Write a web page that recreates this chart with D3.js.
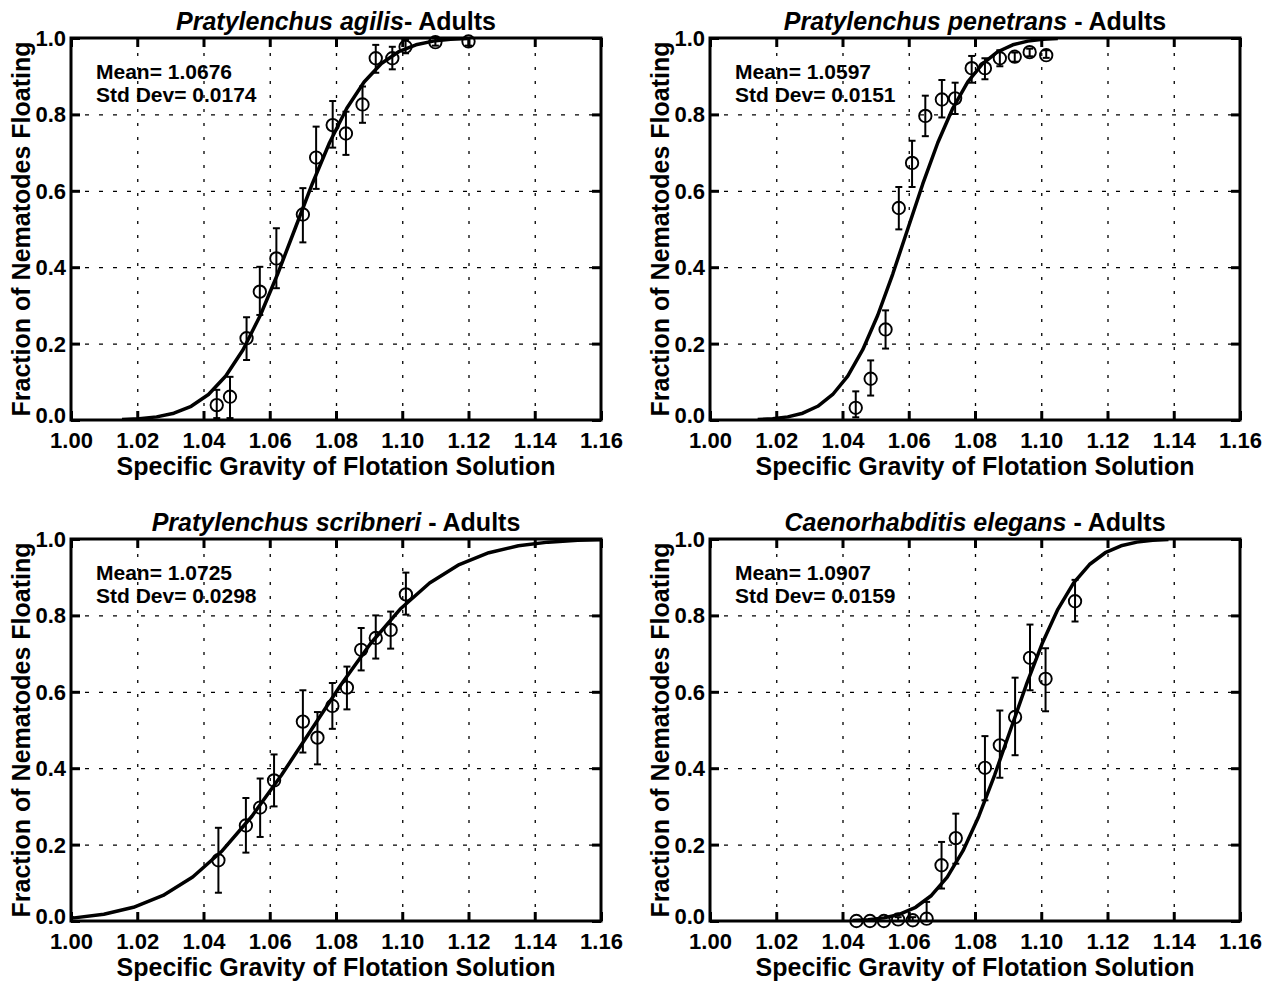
<!DOCTYPE html>
<html>
<head>
<meta charset="utf-8">
<script src="https://cdn.jsdelivr.net/npm/d3@7"></script>
<style>
  html, body { margin: 0; padding: 0; background: #fff; }
  svg { display: block; }
  text { font-family: "Liberation Sans", Arial, Helvetica, sans-serif; fill: #000; }
</style>
</head>
<body>
<svg id="chart" width="1275" height="981"></svg>
<script>
// ---------------- data ----------------
const xTicks = [1.00, 1.02, 1.04, 1.06, 1.08, 1.10, 1.12, 1.14, 1.16];
const yTicks = [0.0, 0.2, 0.4, 0.6, 0.8, 1.0];

const speciesNames = ["Pratylenchus agilis", "Pratylenchus penetrans", "Pratylenchus scribneri", "Caenorhabditis elegans"];
const titleSuffixes = ["- Adults", " - Adults", " - Adults", " - Adults"];
const fitMeans = [1.0676, 1.0597, 1.0725, 1.0907];
const fitStdDevs = [0.0174, 0.0151, 0.0298, 0.0159];
const meanLabels = ["1.0676", "1.0597", "1.0725", "1.0907"];
const sdLabels = ["0.0174", "0.0151", "0.0298", "0.0159"];

// P. agilis
const agilisSG   = [1.044, 1.048, 1.053, 1.057, 1.062, 1.070, 1.074, 1.079, 1.083, 1.088, 1.092, 1.097, 1.101, 1.110, 1.120];
const agilisFrac = [0.039, 0.061, 0.214, 0.336, 0.423, 0.538, 0.687, 0.772, 0.750, 0.826, 0.947, 0.947, 0.977, 0.989, 0.991];
const agilisHi   = [0.079, 0.113, 0.269, 0.401, 0.502, 0.607, 0.768, 0.835, 0.807, 0.873, 0.982, 0.977, 0.995, 1.000, 1.000];
const agilisLo   = [0.005, 0.005, 0.157, 0.275, 0.345, 0.465, 0.605, 0.713, 0.694, 0.778, 0.909, 0.918, 0.960, 0.980, 0.980];

// P. penetrans
const penetransSG   = [1.044, 1.0485, 1.053, 1.057, 1.061, 1.065, 1.070, 1.074, 1.079, 1.083, 1.0875, 1.092, 1.0965, 1.1015];
const penetransFrac = [0.032, 0.108, 0.237, 0.555, 0.673, 0.796, 0.839, 0.842, 0.921, 0.921, 0.947, 0.951, 0.963, 0.955];
const penetransHi   = [0.075, 0.156, 0.287, 0.610, 0.731, 0.849, 0.890, 0.883, 0.953, 0.947, 0.968, 0.962, 0.972, 0.968];
const penetransLo   = [0.007, 0.064, 0.187, 0.499, 0.610, 0.743, 0.792, 0.801, 0.883, 0.892, 0.926, 0.938, 0.952, 0.948];

// P. scribneri
const scribneriSG   = [1.0445, 1.0528, 1.0571, 1.0613, 1.0700, 1.0744, 1.0789, 1.0833, 1.0876, 1.0920, 1.0965, 1.1011];
const scribneriFrac = [0.159, 0.250, 0.297, 0.368, 0.522, 0.480, 0.563, 0.611, 0.710, 0.741, 0.762, 0.855];
const scribneriHi   = [0.244, 0.322, 0.373, 0.436, 0.604, 0.547, 0.623, 0.666, 0.767, 0.800, 0.810, 0.912];
const scribneriLo   = [0.074, 0.179, 0.220, 0.300, 0.441, 0.410, 0.503, 0.554, 0.656, 0.687, 0.713, 0.802];

// C. elegans
const elegansSG   = [1.0442, 1.0483, 1.0525, 1.0568, 1.0612, 1.0654, 1.0699, 1.0742, 1.0830, 1.0875, 1.0921, 1.0966, 1.1013, 1.1102];
const elegansFrac = [0.000, 0.000, 0.000, 0.004, 0.002, 0.006, 0.146, 0.217, 0.401, 0.460, 0.534, 0.689, 0.634, 0.837];
const elegansHi   = [0.000, 0.000, 0.000, 0.010, 0.010, 0.050, 0.207, 0.281, 0.484, 0.551, 0.637, 0.776, 0.714, 0.893];
const elegansLo   = [0.000, 0.000, 0.000, 0.000, 0.000, 0.000, 0.085, 0.150, 0.316, 0.375, 0.434, 0.604, 0.549, 0.784];

const panelSG   = [agilisSG, penetransSG, scribneriSG, elegansSG];
const panelFrac = [agilisFrac, penetransFrac, scribneriFrac, elegansFrac];
const panelHi   = [agilisHi, penetransHi, scribneriHi, elegansHi];
const panelLo   = [agilisLo, penetransLo, scribneriLo, elegansLo];

// ---------------- layout ----------------
const colLeft = [71, 710];
const rowTop = [38, 539];
const W = 530, H = 382;
const FONT = '"Liberation Sans", Arial, Helvetica, sans-serif';

function erf(x) {
  const s = x < 0 ? -1 : 1; x = Math.abs(x);
  const t = 1 / (1 + 0.3275911 * x);
  const y = 1 - (((((1.061405429 * t - 1.453152027) * t) + 1.421413741) * t - 0.284496736) * t + 0.254829592) * t * Math.exp(-x * x);
  return s * y;
}
function normCdf(v, m, s) { return 0.5 * (1 + erf((v - m) / (s * Math.SQRT2))); }

const svg = d3.select("#chart");
const defs = svg.append("defs");

for (let p = 0; p < 4; p++) {
  const left = colLeft[p % 2], top = rowTop[Math.floor(p / 2)];
  const g = svg.append("g").attr("transform", `translate(${left},${top})`);
  const x = d3.scaleLinear().domain([1.00, 1.16]).range([0, W]);
  const y = d3.scaleLinear().domain([0, 1]).range([H, 0]);

  defs.append("clipPath").attr("id", "clip" + p)
    .append("rect").attr("x", 0).attr("y", 0).attr("width", W).attr("height", H);

  // grid
  const gx = g.append("g").attr("transform", `translate(0,${H})`)
    .call(d3.axisBottom(x).tickValues(xTicks.slice(1, -1)).tickSize(-H).tickFormat(""));
  const gy = g.append("g")
    .call(d3.axisLeft(y).tickValues(yTicks.slice(1, -1)).tickSize(-W).tickFormat(""));
  gx.selectAll("line").attr("stroke-dasharray", "3,11");
  gy.selectAll("line").attr("stroke-dasharray", "4,10");
  [gx, gy].forEach(a => {
    a.select(".domain").remove();
    a.selectAll("line").attr("stroke", "#000").attr("stroke-width", 1.3);
  });

  // fitted curve (normal CDF of the stated mean and std dev), mean ± 3 sd
  const m = fitMeans[p], s = fitStdDevs[p];
  const curveX = d3.range(0, 21).map(i => m - 3 * s + i * 0.3 * s);
  const line = d3.line().x(d => x(d)).y(d => y(normCdf(d, m, s)));
  g.append("path").attr("clip-path", `url(#clip${p})`)
    .attr("d", line(curveX)).attr("fill", "none").attr("stroke", "#000")
    .attr("stroke-width", 3.5).attr("stroke-linejoin", "round");

  // error bars
  const pts = panelSG[p].map((v, i) => ({ sg: v, f: panelFrac[p][i], hi: panelHi[p][i], lo: panelLo[p][i] }));
  const eb = g.append("g").attr("stroke", "#000").attr("stroke-width", 2).attr("fill", "none");
  pts.forEach(d => {
    if (d.hi - d.lo < 0.004) return;
    const cx = x(d.sg);
    eb.append("line").attr("x1", cx).attr("x2", cx).attr("y1", y(d.hi)).attr("y2", y(d.lo));
    eb.append("line").attr("x1", cx - 3.5).attr("x2", cx + 3.5).attr("y1", y(d.hi)).attr("y2", y(d.hi));
    eb.append("line").attr("x1", cx - 3.5).attr("x2", cx + 3.5).attr("y1", y(d.lo)).attr("y2", y(d.lo));
  });
  g.append("g").selectAll("circle").data(pts).join("circle")
    .attr("cx", d => x(d.sg)).attr("cy", d => y(d.f)).attr("r", 6.2)
    .attr("fill", "none").attr("stroke", "#000").attr("stroke-width", 1.9);

  // frame
  g.append("rect").attr("x", 0).attr("y", 0).attr("width", W).attr("height", H)
    .attr("fill", "none").attr("stroke", "#000").attr("stroke-width", 3);

  // inward ticks + labels
  const ab = g.append("g").attr("transform", `translate(0,${H})`)
    .call(d3.axisBottom(x).tickValues(xTicks).tickFormat(d3.format(".2f")).tickSize(-9).tickPadding(12));
  const at = g.append("g")
    .call(d3.axisTop(x).tickValues(xTicks).tickFormat("").tickSize(-9));
  const al = g.append("g")
    .call(d3.axisLeft(y).tickValues(yTicks).tickFormat(d3.format(".1f")).tickSize(-9).tickPadding(5));
  const ar = g.append("g").attr("transform", `translate(${W},0)`)
    .call(d3.axisRight(y).tickValues(yTicks).tickFormat("").tickSize(-9));
  [ab, at, al, ar].forEach(a => {
    a.select(".domain").remove();
    a.selectAll("line").attr("stroke", "#000").attr("stroke-width", 3);
    a.selectAll("text").attr("font-size", 22).attr("font-weight", "bold")
      .style("font-family", FONT).attr("fill", "#000");
  });
  ab.selectAll("text").attr("dy", "0.71em");
  al.selectAll("text").attr("dy", d => d === 0 ? "0.1em" : "0.34em");

  // stats
  g.append("text").attr("x", 25).attr("y", 41).attr("font-size", 21).attr("font-weight", "bold")
    .text("Mean= " + meanLabels[p]);
  g.append("text").attr("x", 25).attr("y", 64).attr("font-size", 21).attr("font-weight", "bold")
    .text("Std Dev= " + sdLabels[p]);

  // title
  const t = g.append("text").attr("x", W / 2).attr("y", -8).attr("text-anchor", "middle")
    .attr("font-size", 25).attr("font-weight", "bold");
  t.append("tspan").attr("font-style", "italic").text(speciesNames[p]);
  t.append("tspan").text(titleSuffixes[p]);

  // axis titles
  g.append("text").attr("x", W / 2).attr("y", H + 55).attr("text-anchor", "middle")
    .attr("font-size", 25).attr("font-weight", "bold").text("Specific Gravity of Flotation Solution");
  g.append("text").attr("transform", `translate(-41,${H / 2}) rotate(-90)`).attr("text-anchor", "middle")
    .attr("font-size", 25).attr("font-weight", "bold").text("Fraction of Nematodes Floating");
}
</script>
</body>
</html>
